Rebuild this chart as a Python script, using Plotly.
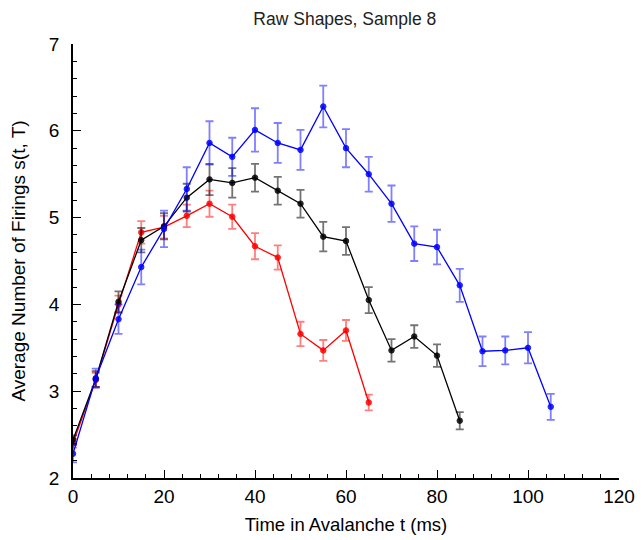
import plotly.graph_objects as go

# time points (ms)
t_red = [0, 5, 10, 15, 20, 25, 30, 35, 40, 45, 50, 55, 60, 65]
t_black = [0, 5, 10, 15, 20, 25, 30, 35, 40, 45, 50, 55, 60, 65, 70, 75, 80, 85]
t_blue = [0, 5, 10, 15, 20, 25, 30, 35, 40, 45, 50, 55, 60, 65, 70, 75, 80, 85,
          90, 95, 100, 105]

# average number of firings
y_red = [2.40, 3.13, 4.00, 4.83, 4.89, 5.02, 5.16, 5.01, 4.67, 4.54, 3.66, 3.47, 3.70, 2.87]
y_black = [2.44, 3.14, 4.03, 4.74, 4.90, 5.23, 5.44, 5.40, 5.46, 5.31, 5.16, 4.78,
           4.73, 4.05, 3.47, 3.63, 3.41, 2.66]
y_blue = [2.28, 3.15, 3.83, 4.43, 4.87, 5.33, 5.86, 5.70, 6.01, 5.86, 5.78, 6.28,
          5.80, 5.50, 5.16, 4.70, 4.66, 4.22, 3.46, 3.47, 3.50, 2.82]

# error bars
e_red = [0.05, 0.08, 0.10, 0.13, 0.13, 0.13, 0.15, 0.14, 0.15, 0.14, 0.14, 0.12, 0.12, 0.09]
e_black = [0.05, 0.09, 0.12, 0.14, 0.15, 0.16, 0.18, 0.17, 0.16, 0.16, 0.16, 0.17,
           0.16, 0.15, 0.13, 0.13, 0.13, 0.10]
e_blue = [0.10, 0.11, 0.17, 0.20, 0.21, 0.25, 0.25, 0.22, 0.25, 0.23, 0.23, 0.24,
          0.22, 0.20, 0.21, 0.20, 0.20, 0.19, 0.17, 0.16, 0.18, 0.15]

series = [
    ("red", t_red, y_red, e_red, "rgb(255,0,0)", "rgba(255,0,0,0.5)"),
    ("black", t_black, y_black, e_black, "rgb(0,0,0)", "rgba(0,0,0,0.55)"),
    ("blue", t_blue, y_blue, e_blue, "rgb(0,0,255)", "rgba(0,0,255,0.5)"),
]

fig = go.Figure()
for name, x, y, e, col, ecol in series:
    fig.add_trace(go.Scatter(
        x=x, y=y, name=name, mode="lines+markers",
        line=dict(color=col, width=1.3),
        marker=dict(symbol="circle", size=5.5, color=col, opacity=0.85,
                    line=dict(color=col, width=1)),
        error_y=dict(type="data", array=e, visible=True, color=ecol,
                     thickness=1.8, width=4),
    ))

axis_font = dict(family="Liberation Sans, Arial, sans-serif", size=19, color="black")

# page body adds an 8px offset, margins account for it
fig.update_layout(
    width=644, height=540,
    margin=dict(l=65, r=33, t=36, b=70, autoexpand=False),
    paper_bgcolor="white", plot_bgcolor="white",
    showlegend=False,
    font=dict(family="Liberation Sans, Arial, sans-serif", color="black"),
    title=dict(text="Raw Shapes, Sample 8", x=0.523, xanchor="center",
               y=1, yanchor="top", pad=dict(t=5),
               font=dict(size=17.5, color="#222")),
    xaxis=dict(
        range=[0, 120], tickvals=[0, 20, 40, 60, 80, 100, 120],
        ticks="inside", ticklen=8, tickwidth=1.2, tickcolor="black",
        minor=dict(dtick=4, ticks="inside", ticklen=4, tickcolor="black", tickwidth=1),
        showline=True, linecolor="black", linewidth=1.5,
        showgrid=False, zeroline=False, tickfont=axis_font, automargin=False,
        title=dict(text="Time in Avalanche t (ms)", font=dict(size=18.5), standoff=13),
    ),
    yaxis=dict(
        range=[2, 7], tickvals=[2, 3, 4, 5, 6, 7],
        ticks="inside", ticklen=8, tickwidth=1.2, tickcolor="black",
        minor=dict(dtick=0.2, ticks="inside", ticklen=4, tickcolor="black", tickwidth=1),
        showline=True, linecolor="black", linewidth=1.5,
        showgrid=False, zeroline=False, tickfont=axis_font, automargin=False,
        ticklabelstandoff=8,
        title=dict(text="Average Number of Firings s(t, T)", font=dict(size=19), standoff=20),
    ),
)

fig.write_html("out.html")
